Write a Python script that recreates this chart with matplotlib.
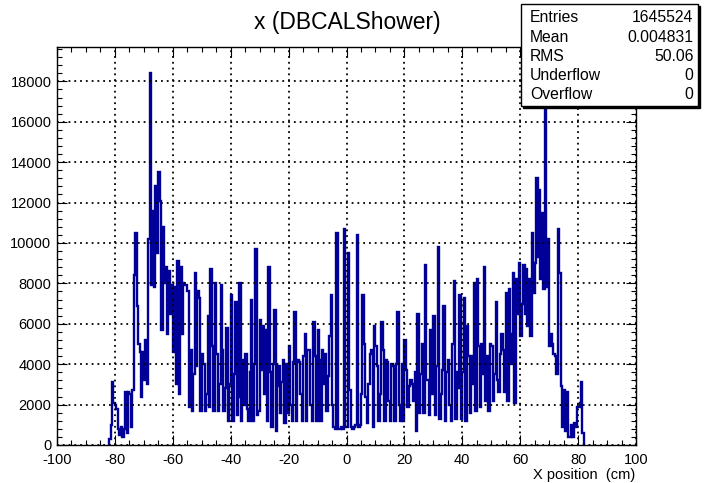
import numpy as np
import matplotlib
matplotlib.use("Agg")
import matplotlib.pyplot as plt
from matplotlib.patches import Rectangle
from matplotlib.ticker import MultipleLocator

plt.rcParams['font.family'] = ['Liberation Sans', 'DejaVu Sans']
plt.rcParams['axes.unicode_minus'] = False

# bin contents (thousands of entries), 0.5 cm bins from -82 cm to +82 cm
seg_a = [0.3, 1.0, 3.1, 2.1, 2.0, 1.8, 0.8, 0.5, 0.9, 0.4,
         0.8, 2.6, 0.6, 2.6, 2.5, 0.9, 2.7, 8.4, 10.5, 6.9,
         5.0, 4.6, 2.4, 4.6, 3.2, 5.2, 3.0, 10.2, 18.4, 7.9,
         11.6, 7.8, 12.8, 9.5, 13.5, 12.1, 5.7, 10.8, 8.0, 8.8,
         5.5, 8.6, 6.5, 7.9, 4.6, 7.8, 3.0, 9.1, 2.5, 8.8,
         5.5, 8.0]
seg_b = [7.9, 7.9, 7.6, 1.9, 4.7, 1.7, 3.5, 8.5, 3.9, 7.6,
         7.3, 1.7, 4.5, 4.0, 1.7, 2.5, 6.4, 1.9, 8.7, 4.9,
         1.7, 8.0, 4.5, 1.7, 3.0, 7.9, 4.7, 1.7, 2.8, 5.8,
         1.2, 3.0, 7.4, 1.2, 3.5, 7.1, 1.5, 2.4, 8.0, 1.2,
         4.2, 2.0, 4.5, 1.8, 1.2, 3.6, 7.2, 1.2, 4.0, 9.7,
         1.5, 1.7, 6.2, 3.7, 5.9, 2.5]
seg_c = [5.7, 1.2, 8.8, 3.6, 0.9, 4.0, 6.7, 0.7, 2.9, 3.9,
         1.6, 3.1, 4.2, 1.1, 4.0, 1.6, 4.9, 2.0, 1.2, 4.1,
         6.6, 1.2, 4.2, 4.1, 2.5, 1.2, 4.4, 5.5, 1.2, 4.7,
         4.7, 2.0, 1.2, 6.1, 4.4, 1.2, 5.7, 4.2, 1.2, 4.7,
         3.0, 4.5, 1.7, 3.4, 5.4, 7.4, 2.0, 0.9, 0.8, 10.5,
         0.8, 0.8, 0.9, 0.8, 10.7, 0.9]
seg_d = [0.9, 9.5, 2.7, 0.9, 0.8, 0.9, 1.0, 10.4, 0.9, 1.0,
         2.5, 7.4, 5.0, 2.4, 1.1, 3.0, 4.5, 4.7, 0.9, 5.9,
         4.9, 3.9, 1.2, 2.5, 6.1, 4.7, 1.2, 4.2, 4.1, 2.2,
         1.2, 4.0, 3.9, 1.2, 4.0, 6.6, 2.0, 1.2, 4.0, 1.2,
         5.2, 3.7, 1.9, 2.9, 3.2, 3.0, 2.2, 3.6, 0.7, 6.5,
         1.6, 3.5, 5.0, 1.6, 8.9, 3.2]
seg_e = [3.2, 1.5, 5.7, 2.5, 6.4, 1.5, 3.9, 9.8, 1.3, 2.5,
         3.7, 6.9, 1.2, 3.6, 4.2, 2.0, 1.2, 5.0, 8.1, 1.3,
         3.6, 2.8, 7.4, 1.3, 3.6, 7.3, 1.2, 5.9, 4.4, 1.6,
         4.4, 3.0, 8.0, 1.7, 8.2, 4.9, 1.9, 5.0, 3.5, 8.8,
         2.2, 4.4, 1.7, 5.0, 4.9, 2.2, 3.5, 7.1, 3.2, 2.6,
         4.5, 5.5, 4.7, 2.6, 7.5, 2.2]
seg_f = [7.7, 4.0, 5.5, 8.5, 2.1, 8.2, 6.5, 9.0, 5.4, 7.0,
         8.9, 6.5, 8.7, 5.9, 8.2, 5.4, 10.5, 7.5, 9.0, 13.2,
         9.3, 12.6, 8.2, 11.5, 7.7, 17.5, 7.8, 10.2, 4.9, 5.5,
         5.0, 4.5, 4.4, 3.5, 10.7, 8.5, 2.9, 0.9, 2.7, 0.7,
         2.6, 0.4, 0.4, 1.0, 0.4, 1.1, 0.9, 1.9, 1.9, 2.1,
         3.1, 0.6]

counts = np.array(seg_a + seg_b + seg_c + seg_d + seg_e + seg_f) * 1000
edges = np.arange(-82, 82.01, 0.5)

stat_names = ["Entries", "Mean", "RMS", "Underflow", "Overflow"]
stat_values = ["1645524", "0.004831", "50.06", "0", "0"]

fig = plt.figure(figsize=(7.04, 4.83), dpi=100)
ax = fig.add_axes([0.081, 0.0787, 0.8224, 0.824])

ax.stairs(counts, edges, color="#000099", lw=1.7, baseline=0)

ax.set_xlim(-100, 100)
ax.set_ylim(0, 19700)
ax.xaxis.set_major_locator(MultipleLocator(20))
ax.xaxis.set_minor_locator(MultipleLocator(5))
ax.yaxis.set_major_locator(MultipleLocator(2000))
ax.yaxis.set_minor_locator(MultipleLocator(400))
ax.tick_params(which="both", direction="in", top=True, right=True,
               labelsize=10.5, width=0.8)
ax.tick_params(axis="y", pad=4)
ax.tick_params(axis="x", pad=5.5)
ax.tick_params(which="major", length=7)
ax.tick_params(which="minor", length=3.5)
ax.set_yticks(np.arange(0, 18001, 2000))
ax.grid(True, which="major", color="black", linestyle=(0, (1, 2.2)), lw=1.3)
for s in ax.spines.values():
    s.set_linewidth(1.0)
    s.set_zorder(5)

fig.text(0.493, 0.954, "x (DBCALShower)", ha="center", va="center", fontsize=16.5)
fig.text(0.903, 0.017, "X position  (cm)", ha="right", va="center", fontsize=10.5)

# stats box with shadow
bx, by, bw, bh = 0.740, 0.7805, 0.252, 0.211
fig.patches.append(Rectangle((bx + 0.003, by - 0.004), bw, bh, transform=fig.transFigure,
                             facecolor="black", edgecolor="black", zorder=9))
fig.patches.append(Rectangle((bx, by), bw, bh, transform=fig.transFigure,
                             facecolor="white", edgecolor="black", lw=1.0, zorder=10))
for i, (n, v) in enumerate(zip(stat_names, stat_values)):
    yy = 1 - (18 + 19.2 * i) / 483
    fig.text(0.753, yy, n, ha="left", va="center", fontsize=11.3, zorder=11)
    fig.text(0.985, yy, v, ha="right", va="center", fontsize=11.3, zorder=11)

fig.savefig("out.png", dpi=100)
